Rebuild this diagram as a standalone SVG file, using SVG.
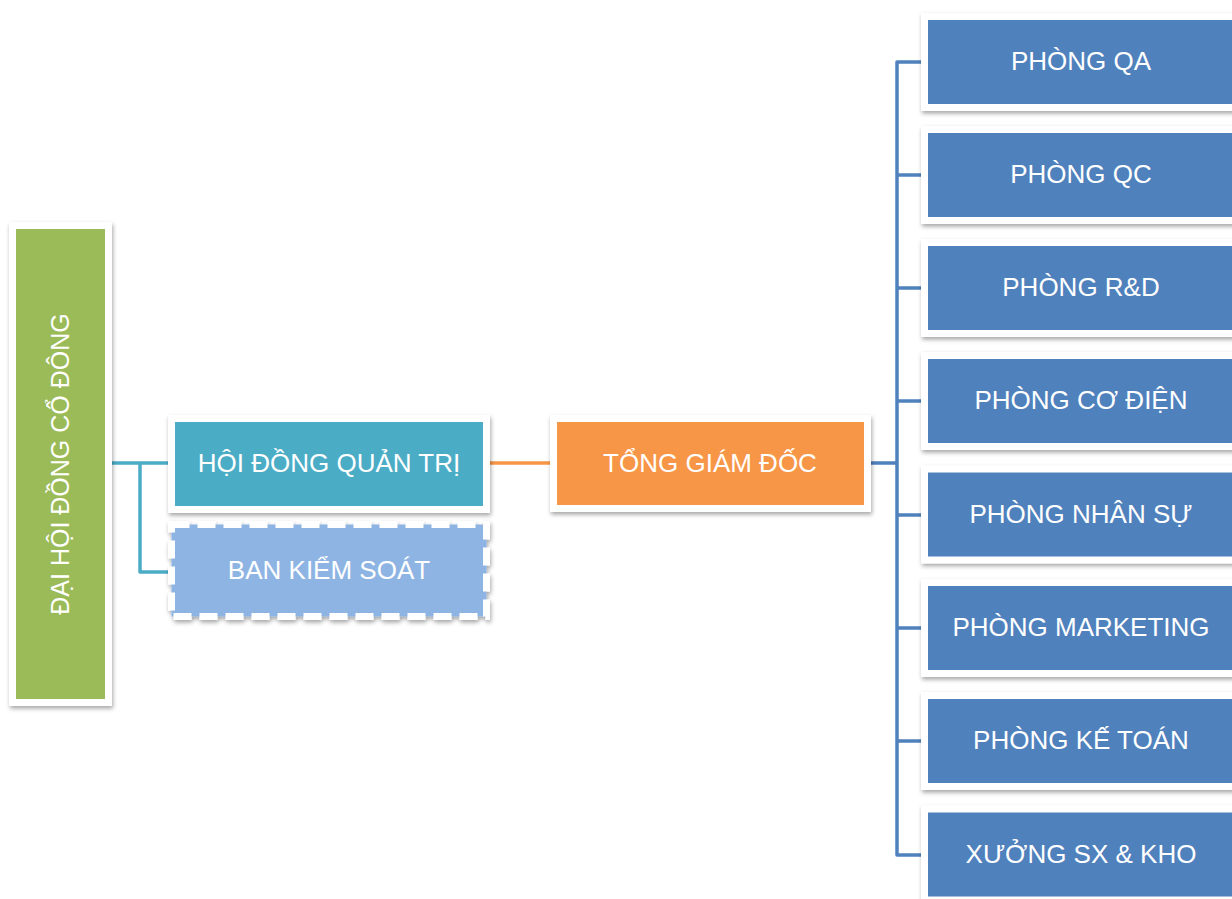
<svg xmlns="http://www.w3.org/2000/svg" width="1232" height="899" viewBox="0 0 1232 899">
<defs>
<filter id="sh" x="-10%" y="-10%" width="130%" height="130%">
<feDropShadow dx="1" dy="2.5" stdDeviation="2" flood-color="#000" flood-opacity="0.35"/>
</filter>
<style>
.box{stroke:#fff;stroke-width:7;filter:url(#sh)}
.t{font-family:"Liberation Sans",Arial,sans-serif;font-size:26px;fill:#fff;text-anchor:middle}
.c{fill:none;stroke-width:3.5;stroke-linejoin:round}
</style>
</defs>
<rect width="1232" height="899" fill="#fff"/>
<g id="connectors">
<path class="c" stroke="#4BACC6" d="M108 463 H175 M140 463 V572 H175"/>
<path class="c" stroke="#F79646" d="M486 463 H555"/>
<path class="c" stroke="#4F81BD" d="M866 463 H897 M925 62 H897 V855 H925 M897 175 H925 M897 288 H925 M897 401 H925 M897 515 H925 M897 628 H925 M897 741 H925"/>
</g>
<g id="dhdcd">
<rect class="box" x="12.5" y="225.5" width="96" height="477" fill="#9BBB59"/>
<text class="t" font-size="25" transform="translate(69,464) rotate(-90)" style="font-size:25px">ĐẠI HỘI ĐỒNG CỔ ĐÔNG</text>
</g>
<g id="hdqt">
<rect class="box" x="171.5" y="418.5" width="315" height="91" fill="#4BACC6"/>
<text class="t" x="329" y="472">HỘI ĐỒNG QUẢN TRỊ</text>
</g>
<g id="bks">
<rect x="171.5" y="524.5" width="315" height="92" fill="#8EB4E3" stroke="#fff" stroke-width="7" stroke-dasharray="18 8" filter="url(#sh)"/>
<text class="t" x="329" y="579">BAN KIỂM SOÁT</text>
</g>
<g id="tgd">
<rect class="box" x="553.5" y="418.5" width="314" height="90" fill="#F79646"/>
<text class="t" x="710" y="472">TỔNG GIÁM ĐỐC</text>
</g>
<g id="qa"><rect class="box" x="924.5" y="16.5" width="320" height="91" fill="#4F81BD"/><text class="t" x="1081" y="70">PHÒNG QA</text></g>
<g id="qc"><rect class="box" x="924.5" y="129.5" width="320" height="91" fill="#4F81BD"/><text class="t" x="1081" y="183">PHÒNG QC</text></g>
<g id="rd"><rect class="box" x="924.5" y="242.5" width="320" height="91" fill="#4F81BD"/><text class="t" x="1081" y="296">PHÒNG R&amp;D</text></g>
<g id="codien"><rect class="box" x="924.5" y="355.5" width="320" height="91" fill="#4F81BD"/><text class="t" x="1081" y="409">PHÒNG CƠ ĐIỆN</text></g>
<g id="nhansu"><rect class="box" x="924.5" y="469" width="320" height="91" fill="#4F81BD"/><text class="t" x="1081" y="523">PHÒNG NHÂN SỰ</text></g>
<g id="marketing"><rect class="box" x="924.5" y="582.5" width="320" height="91" fill="#4F81BD"/><text class="t" x="1081" y="636">PHÒNG MARKETING</text></g>
<g id="ketoan"><rect class="box" x="924.5" y="695.5" width="320" height="91" fill="#4F81BD"/><text class="t" x="1081" y="749">PHÒNG KẾ TOÁN</text></g>
<g id="xuong"><rect class="box" x="924.5" y="809" width="320" height="91" fill="#4F81BD"/><text class="t" x="1081" y="863">XƯỞNG SX &amp; KHO</text></g>
</svg>
